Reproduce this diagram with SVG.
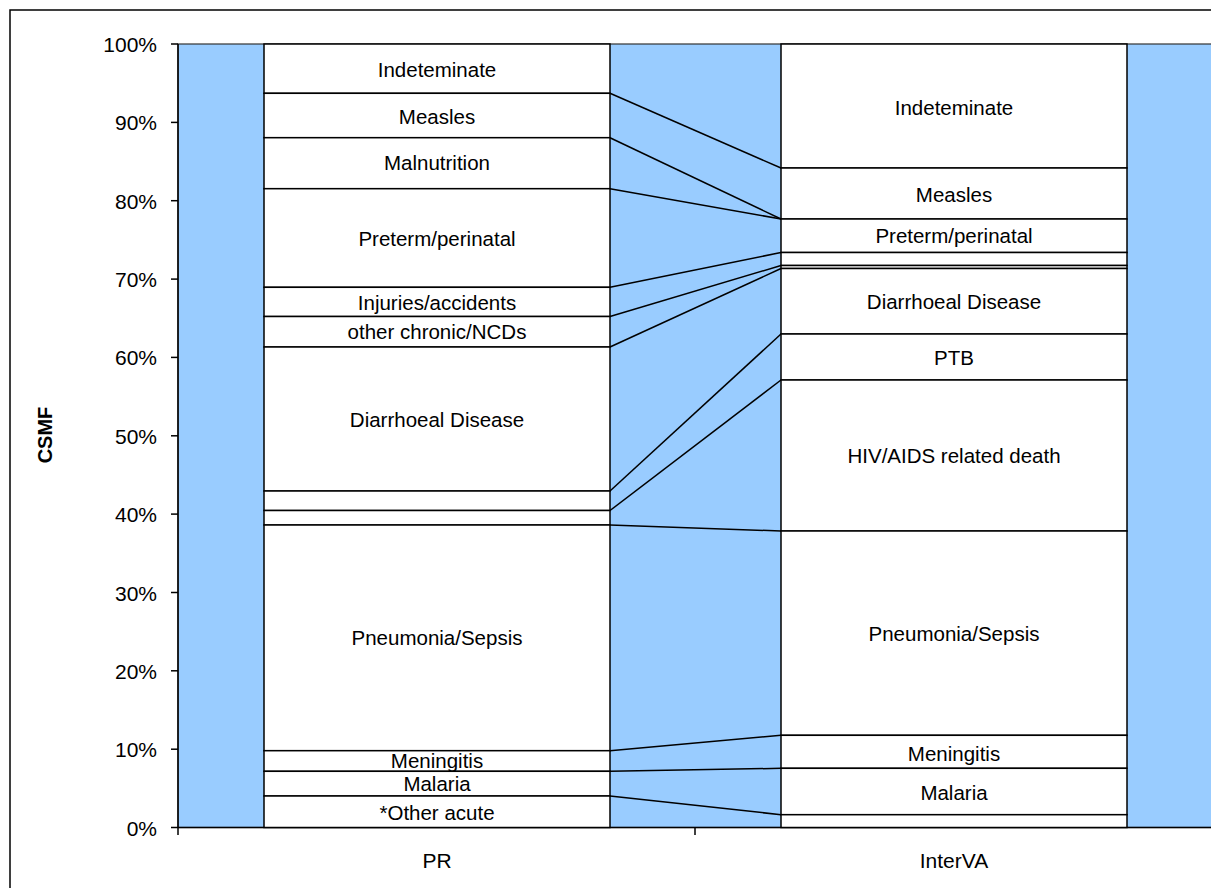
<svg xmlns="http://www.w3.org/2000/svg" width="1211" height="888" viewBox="0 0 1211 888">
<style>
text{font-family:"Liberation Sans",Arial,sans-serif;font-size:20.5px;fill:#000}
.lbl{text-anchor:middle}
.ax{text-anchor:end;font-size:21px}
.seg{fill:#fff;stroke:#000;stroke-width:1.5}
.con line{stroke:#000;stroke-width:1.5}
.tick{stroke:#000;stroke-width:1.5}
</style>
<rect x="0" y="0" width="1211" height="888" fill="#fff"/>
<rect x="10" y="10" width="1220" height="900" fill="#fff" stroke="#000" stroke-width="1.5"/>
<rect x="178" y="44" width="1040" height="783.5" fill="#99CCFF" stroke="#333" stroke-width="1.2"/>
<g id="axis">
<line class="tick" x1="178" y1="44" x2="178" y2="827.5"/>
<line class="tick" x1="171" y1="827.5" x2="1211" y2="827.5"/>
<line class="tick" x1="171" y1="44" x2="178" y2="44"/>
<line class="tick" x1="171" y1="122.4" x2="178" y2="122.4"/>
<line class="tick" x1="171" y1="200.7" x2="178" y2="200.7"/>
<line class="tick" x1="171" y1="279.1" x2="178" y2="279.1"/>
<line class="tick" x1="171" y1="357.4" x2="178" y2="357.4"/>
<line class="tick" x1="171" y1="435.8" x2="178" y2="435.8"/>
<line class="tick" x1="171" y1="514.1" x2="178" y2="514.1"/>
<line class="tick" x1="171" y1="592.5" x2="178" y2="592.5"/>
<line class="tick" x1="171" y1="670.8" x2="178" y2="670.8"/>
<line class="tick" x1="171" y1="749.2" x2="178" y2="749.2"/>
<line class="tick" x1="178" y1="827.5" x2="178" y2="835"/>
<line class="tick" x1="695" y1="827.5" x2="695" y2="835"/>
<text class="ax" x="157" y="52">100%</text>
<text class="ax" x="157" y="130.4">90%</text>
<text class="ax" x="157" y="208.7">80%</text>
<text class="ax" x="157" y="287.1">70%</text>
<text class="ax" x="157" y="365.4">60%</text>
<text class="ax" x="157" y="443.8">50%</text>
<text class="ax" x="157" y="522.1">40%</text>
<text class="ax" x="157" y="600.5">30%</text>
<text class="ax" x="157" y="678.8">20%</text>
<text class="ax" x="157" y="757.2">10%</text>
<text class="ax" x="157" y="835.5">0%</text>
<text x="52" y="435" transform="rotate(-90 52 435)" text-anchor="middle" font-weight="bold" style="font-size:20px">CSMF</text>
<text class="lbl" x="437" y="868" style="font-size:21px">PR</text>
<text class="lbl" x="954" y="868" style="font-size:21px">InterVA</text>
</g>
<g id="connectors" class="con">
<line x1="610" y1="93.3" x2="781" y2="168"/>
<line x1="610" y1="137.7" x2="781" y2="219"/>
<line x1="610" y1="188.7" x2="781" y2="219"/>
<line x1="610" y1="287.3" x2="781" y2="252.5"/>
<line x1="610" y1="316.5" x2="781" y2="265.5"/>
<line x1="610" y1="347" x2="781" y2="268.5"/>
<line x1="610" y1="491" x2="781" y2="334"/>
<line x1="610" y1="510.5" x2="781" y2="380"/>
<line x1="610" y1="525" x2="781" y2="531"/>
<line x1="610" y1="750.7" x2="781" y2="735.3"/>
<line x1="610" y1="771.3" x2="781" y2="768.3"/>
<line x1="610" y1="796" x2="781" y2="814.7"/>
</g>
<g id="pr">
<g id="pr-indeteminate"><rect class="seg" x="264" y="44" width="346" height="49.3"/><text class="lbl" x="437" y="77">Indeteminate</text></g>
<g id="pr-measles"><rect class="seg" x="264" y="93.3" width="346" height="44.4"/><text class="lbl" x="437" y="124">Measles</text></g>
<g id="pr-malnutrition"><rect class="seg" x="264" y="137.7" width="346" height="51"/><text class="lbl" x="437" y="170">Malnutrition</text></g>
<g id="pr-preterm"><rect class="seg" x="264" y="188.7" width="346" height="98.6"/><text class="lbl" x="437" y="246">Preterm/perinatal</text></g>
<g id="pr-injuries"><rect class="seg" x="264" y="287.3" width="346" height="29.2"/><text class="lbl" x="437" y="310">Injuries/accidents</text></g>
<g id="pr-chronic"><rect class="seg" x="264" y="316.5" width="346" height="30.5"/><text class="lbl" x="437" y="339">other chronic/NCDs</text></g>
<g id="pr-diarrhoeal"><rect class="seg" x="264" y="347" width="346" height="144"/><text class="lbl" x="437" y="427">Diarrhoeal Disease</text></g>
<g id="pr-blank1"><rect class="seg" x="264" y="491" width="346" height="19.5"/></g>
<g id="pr-blank2"><rect class="seg" x="264" y="510.5" width="346" height="14.5"/></g>
<g id="pr-pneumonia"><rect class="seg" x="264" y="525" width="346" height="225.7"/><text class="lbl" x="437" y="645">Pneumonia/Sepsis</text></g>
<g id="pr-meningitis"><rect class="seg" x="264" y="750.7" width="346" height="20.6"/><text class="lbl" x="437" y="768">Meningitis</text></g>
<g id="pr-malaria"><rect class="seg" x="264" y="771.3" width="346" height="24.7"/><text class="lbl" x="437" y="791">Malaria</text></g>
<g id="pr-otheracute"><rect class="seg" x="264" y="796" width="346" height="31.5"/><text class="lbl" x="437" y="820">*Other acute</text></g>
</g>
<g id="interva">
<g id="iv-indeteminate"><rect class="seg" x="781" y="44" width="346" height="124"/><text class="lbl" x="954" y="115">Indeteminate</text></g>
<g id="iv-measles"><rect class="seg" x="781" y="168" width="346" height="51"/><text class="lbl" x="954" y="201.5">Measles</text></g>
<g id="iv-preterm"><rect class="seg" x="781" y="219" width="346" height="33.5"/><text class="lbl" x="954" y="243">Preterm/perinatal</text></g>
<g id="iv-blank1"><rect class="seg" x="781" y="252.5" width="346" height="13"/></g>
<g id="iv-blank2"><rect class="seg" x="781" y="265.5" width="346" height="3"/></g>
<g id="iv-diarrhoeal"><rect class="seg" x="781" y="268.5" width="346" height="65.5"/><text class="lbl" x="954" y="309">Diarrhoeal Disease</text></g>
<g id="iv-ptb"><rect class="seg" x="781" y="334" width="346" height="46"/><text class="lbl" x="954" y="365">PTB</text></g>
<g id="iv-hiv"><rect class="seg" x="781" y="380" width="346" height="151"/><text class="lbl" x="954" y="463">HIV/AIDS related death</text></g>
<g id="iv-pneumonia"><rect class="seg" x="781" y="531" width="346" height="204.3"/><text class="lbl" x="954" y="641">Pneumonia/Sepsis</text></g>
<g id="iv-meningitis"><rect class="seg" x="781" y="735.3" width="346" height="33"/><text class="lbl" x="954" y="760.5">Meningitis</text></g>
<g id="iv-malaria"><rect class="seg" x="781" y="768.3" width="346" height="46.4"/><text class="lbl" x="954" y="800">Malaria</text></g>
<g id="iv-blank3"><rect class="seg" x="781" y="814.7" width="346" height="12.8"/></g>
</g>
</svg>
